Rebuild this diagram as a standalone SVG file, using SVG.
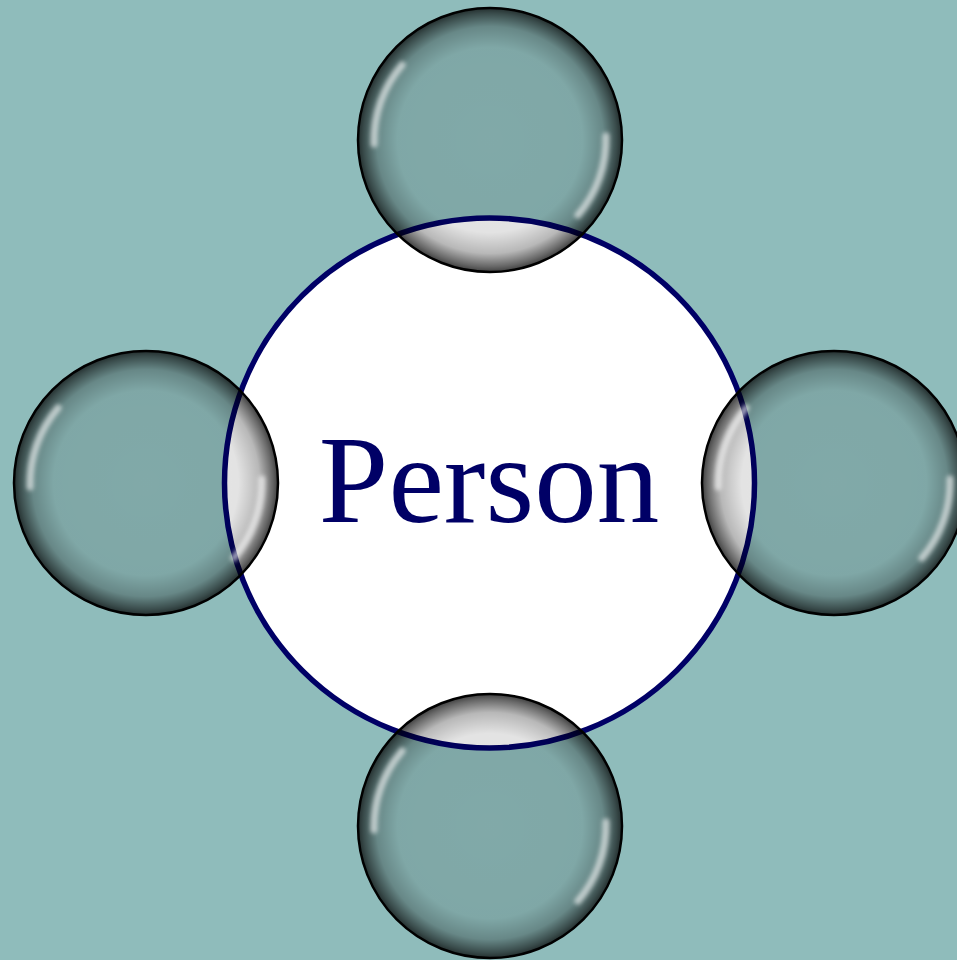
<svg xmlns="http://www.w3.org/2000/svg" width="957" height="960" viewBox="0 0 957 960">
  <defs>
    <radialGradient id="glass" cx="0.5" cy="0.5" r="0.5">
      <stop offset="0" stop-color="#000" stop-opacity="0.1"/>
      <stop offset="0.7" stop-color="#000" stop-opacity="0.11"/>
      <stop offset="0.86" stop-color="#000" stop-opacity="0.28"/>
      <stop offset="0.96" stop-color="#000" stop-opacity="0.6"/>
      <stop offset="1" stop-color="#000" stop-opacity="0.75"/>
    </radialGradient>
    <filter id="soft" x="-30%" y="-30%" width="160%" height="160%">
      <feGaussianBlur stdDeviation="2.2"/>
    </filter>
    <filter id="edge" x="-10%" y="-10%" width="120%" height="120%">
      <feGaussianBlur stdDeviation="0.6"/>
    </filter>
    <g id="sphere">
      <circle r="132" fill="url(#glass)"/>
      <circle r="132" fill="none" stroke="#000" stroke-width="2.5" filter="url(#edge)"/>
      <path d="M -116 4 A 116 116 0 0 1 -88 -75" fill="none" stroke="#fff" stroke-opacity="0.6" stroke-width="7" stroke-linecap="round" filter="url(#soft)"/>
      <path d="M 116 -4 A 116 116 0 0 1 88 75" fill="none" stroke="#fff" stroke-opacity="0.6" stroke-width="7" stroke-linecap="round" filter="url(#soft)"/>
    </g>
  </defs>
  <style>
    .label { font-family: "Liberation Serif", "Times New Roman", serif; font-size: 125px; fill: #000066; }
  </style>
  <rect width="957" height="960" fill="#8fbcbb"/>
  <g id="person">
    <circle cx="489.5" cy="483" r="265" fill="#fff" stroke="#000066" stroke-width="5.5"/>
    <text class="label" x="489" y="522" text-anchor="middle">Person</text>
  </g>
  <g id="connectors"/>
  <g id="sphere-top"><use href="#sphere" x="490" y="140"/></g>
  <g id="sphere-left"><use href="#sphere" x="146" y="483"/></g>
  <g id="sphere-right"><use href="#sphere" x="834" y="483"/></g>
  <g id="sphere-bottom"><use href="#sphere" x="490" y="826"/></g>
</svg>
